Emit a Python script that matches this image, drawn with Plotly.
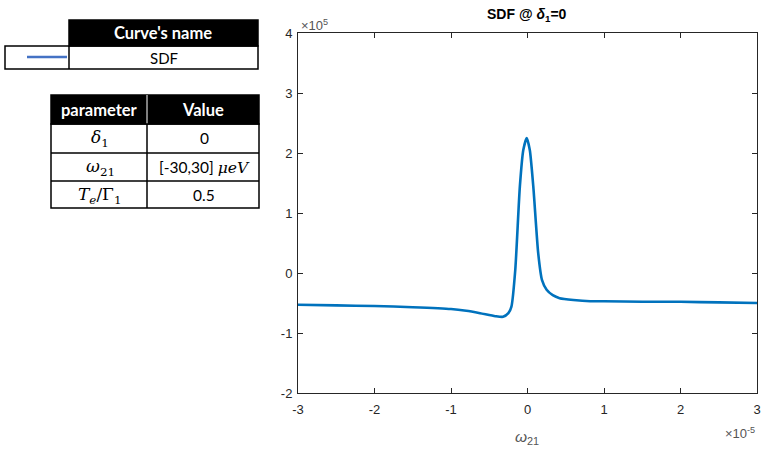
import plotly.graph_objects as go

# ---- data (x in units of 1e-5, y in units of 1e5) ----
omega21_e5 = [-3.0, -2.5, -2.0, -1.5, -1.0, -0.8, -0.62, -0.42, -0.32, -0.25, -0.21, -0.16,
              -0.10, -0.055, -0.01, 0.03, 0.076, 0.14, 0.19, 0.25, 0.33, 0.42, 0.6, 0.82,
              1.0, 1.5, 2.0, 2.5, 3.0]
sdf_e5 = [-0.53, -0.54, -0.55, -0.57, -0.60, -0.63, -0.67, -0.72, -0.73, -0.67, -0.56, 0.05,
          1.44, 2.05, 2.25, 2.05, 1.44, 0.33, -0.12, -0.28, -0.37, -0.42, -0.45, -0.47,
          -0.47, -0.48, -0.48, -0.49, -0.50]
x_ticks = [-3, -2, -1, 0, 1, 2, 3]
y_ticks = [-2, -1, 0, 1, 2, 3, 4]

legend_header = "Curve's name"
legend_names = ["SDF"]
param_header = ["parameter", "Value"]
param_names = ["<i>δ</i><sub>1</sub>", "<i>ω</i><sub>21</sub>", "<i>T<sub>e</sub></i>/Γ<sub>1</sub>"]
param_values = ["0", "[-30,30] <span style='font-family:DejaVu Serif'><i>μeV</i></span>", "0.5"]

W, H = 761, 450
def P(px, py):
    return px / W, 1 - py / H

fig = go.Figure()
fig.add_trace(go.Scatter(x=omega21_e5, y=sdf_e5, mode="lines",
                         line=dict(color="#0072BD", width=2.6, shape="spline", smoothing=0.6),
                         showlegend=False, hoverinfo="skip"))

axis_common = dict(showgrid=False, zeroline=False, showline=True, linecolor="#262626",
                   linewidth=1, mirror="ticks", ticks="inside", ticklen=5, tickcolor="#262626",
                   automargin=False,
                   tickfont=dict(family="Liberation Sans, Arial", size=13, color="#262626"))
fig.update_layout(
    width=W, height=H, margin=dict(l=0, r=0, t=0, b=0, autoexpand=False),
    paper_bgcolor="white", plot_bgcolor="white",
    xaxis=dict(domain=[298 / W, 757 / W], range=[-3, 3], tickvals=x_ticks,
               ticktext=[str(v) for v in x_ticks], ticklabelstandoff=4, **axis_common),
    yaxis=dict(domain=[1 - 393 / H, 1 - 33 / H], range=[-2, 4], tickvals=y_ticks,
               ticktext=[str(v) for v in y_ticks], ticklabelstandoff=2, **axis_common),
)

shapes = []
ann = []
def rect(x0, y0, x1, y1, fill=None, lw=1.5, color="black"):
    a = P(x0, y0); b = P(x1, y1)
    shapes.append(dict(type="rect", xref="paper", yref="paper", x0=a[0], y0=b[1], x1=b[0], y1=a[1],
                       line=dict(color=color, width=lw), fillcolor=fill if fill else "rgba(0,0,0,0)"))
def line(x0, y0, x1, y1, color="black", lw=1.5):
    a = P(x0, y0); b = P(x1, y1)
    shapes.append(dict(type="line", xref="paper", yref="paper", x0=a[0], y0=a[1], x1=b[0], y1=b[1],
                       line=dict(color=color, width=lw)))
def text(px, py, s, size=14, color="black", family="Lato, Noto Sans", xanchor="center"):
    x, y = P(px, py)
    ann.append(dict(xref="paper", yref="paper", x=x, y=y, text=s, showarrow=False,
                    xanchor=xanchor, yanchor="middle",
                    font=dict(family=family, size=size, color=color)))

# Legend table
rect(69, 20, 258, 46, fill="black")
rect(5, 46, 258, 69)
line(69, 46, 69, 69)
line(27, 57, 67, 57, color="#4472C4", lw=2.5)
text(163, 33, "<b>" + legend_header + "</b>", color="white", size=16.5)
text(164, 58, legend_names[0], size=15)

# Parameter table
rect(51, 95, 259, 124, fill="black")
line(147, 95, 147, 124, color="white", lw=1)
rect(51, 124, 259, 208)
line(51, 153, 259, 153)
line(51, 181, 259, 181)
line(147, 124, 147, 208)
text(99, 110, "<b>" + param_header[0] + "</b>", color="white", size=16.5)
text(203, 110, "<b>" + param_header[1] + "</b>", color="white", size=16.5)
row_y = [138, 167, 195]
for yy, n, v in zip(row_y, param_names, param_values):
    text(100, yy, n, size=17, family="DejaVu Serif")
    text(204, yy, v, size=15.5)

# Title, axis label, exponents
text(527, 15, "<b>SDF @ <i>δ</i><sub>1</sub>=0</b>", size=14, color="#000000",
     family="Liberation Sans, Arial")
text(527, 437, "<i>ω</i><sub>21</sub>", size=15.5, color="#555555", family="Liberation Sans, Arial")
text(299, 25, "×10<sup>5</sup>", size=13, color="#555555", family="Liberation Sans, Arial",
     xanchor="left")
text(757, 433, "×10<sup>-5</sup>", size=13, color="#555555", family="Liberation Sans, Arial",
     xanchor="right")

fig.update_layout(shapes=shapes, annotations=ann)
fig.write_html("out.html", config={"displayModeBar": False},
               post_script="document.body.style.margin='0';document.body.style.overflow='hidden';")
